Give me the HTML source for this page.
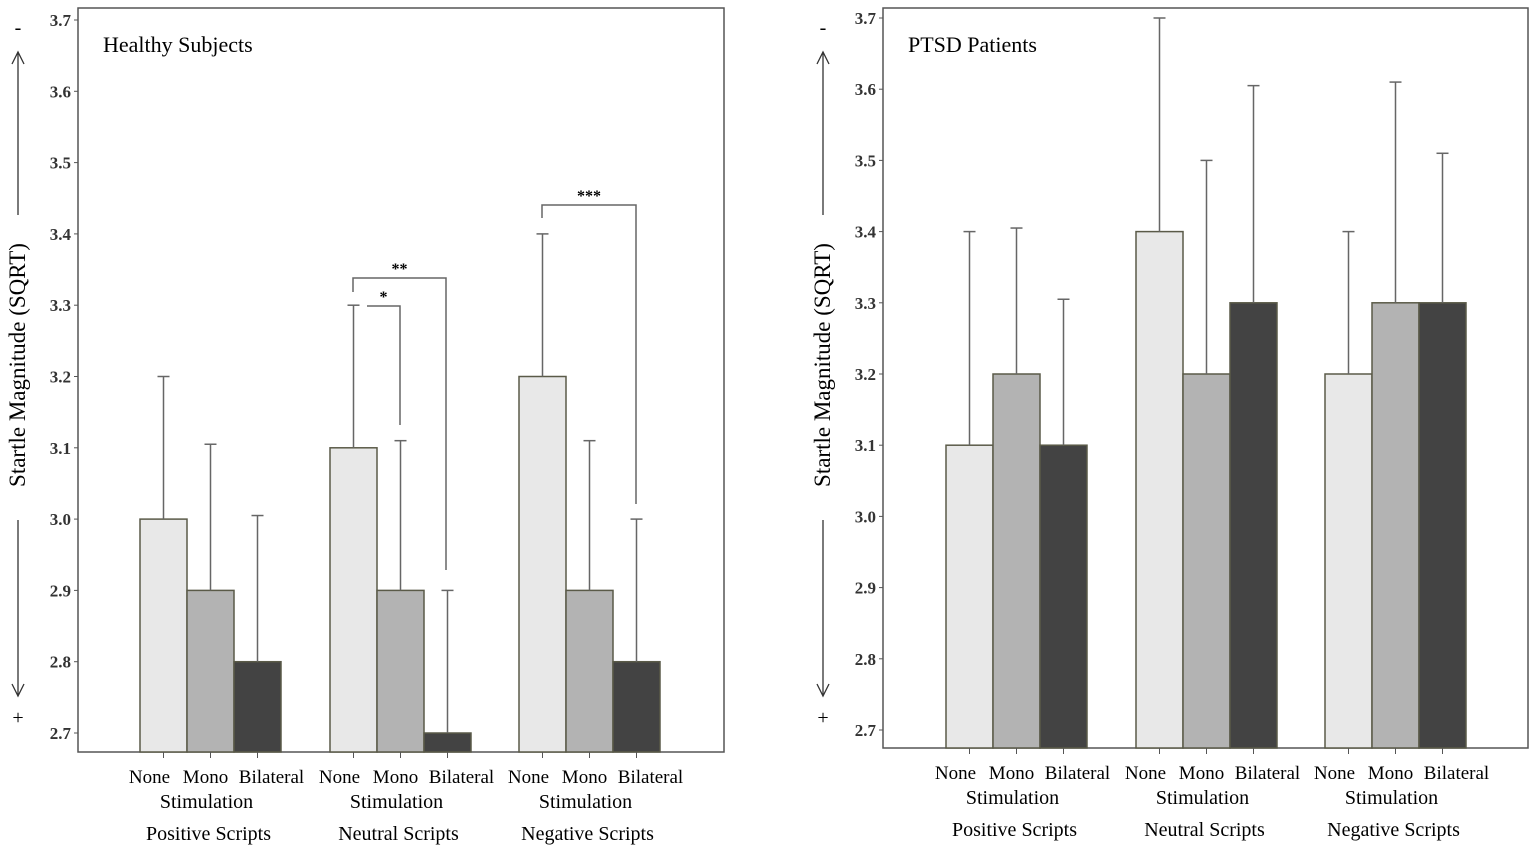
<!DOCTYPE html>
<html><head><meta charset="utf-8"><style>
body{margin:0;background:#fff;}
svg{display:block;font-family:"Liberation Serif",serif;}
</style></head><body>
<svg id="chart" width="1535" height="851"></svg>
<script>
const groups=["Positive Scripts","Neutral Scripts","Negative Scripts"];
const conditions=["None","Mono","Bilateral"];
const healthyMeans=[[3.0,2.9,2.8],[3.1,2.9,2.7],[3.2,2.9,2.8]];
const healthyErr=[[3.2,3.105,3.005],[3.3,3.11,2.9],[3.4,3.11,3.0]];
const ptsdMeans=[[3.1,3.2,3.1],[3.4,3.2,3.3],[3.2,3.3,3.3]];
const ptsdErr=[[3.4,3.405,3.305],[3.7,3.5,3.605],[3.4,3.61,3.51]];
const yTicks=[2.7,2.8,2.9,3.0,3.1,3.2,3.3,3.4,3.5,3.6,3.7];
const fills=["#e8e8e8","#b3b3b3","#434343"];
const labelOffsets=[-14,-5,14];
const NS="http://www.w3.org/2000/svg";
const svg=document.getElementById('chart');
function mk(tag,attrs,parent,text){const e=document.createElementNS(NS,tag);for(const k in attrs)e.setAttribute(k,attrs[k]);if(text!==undefined)e.textContent=text;(parent||svg).appendChild(e);return e;}

function panel(p){
  const g=mk('g',{});
  
  
  const y=v=>p.y0+(3.7-v)/0.1*p.step;
  const box=mk('rect',{x:p.bx,y:p.by,width:p.bw,height:p.bh,fill:'none',stroke:'#555','stroke-width':1.5},g);
  
  
  const title=mk('text',{x:p.bx+25,y:p.by+44,'font-size':22},g,p.title);
  
  
  yTicks.forEach(t=>{
    mk('line',{x1:p.bx-4,x2:p.bx,y1:y(t),y2:y(t),stroke:'#555'},g);
    const tx=mk('text',{x:p.bx-7,y:y(t)+6,'font-size':17,'font-weight':'bold','text-anchor':'end',fill:'#333'},g,t.toFixed(1));
    
    
  });
  const lx=p.bx-60;
  const yl=mk('text',{x:0,y:0,'font-size':23,'text-anchor':'middle',transform:`translate(${lx+7},${p.by+357}) rotate(-90)`},g,'Startle Magnitude (SQRT)');
  
  
  mk('line',{x1:lx,x2:lx,y1:p.by+207,y2:p.by+45,stroke:'#333','stroke-width':1.3},g);
  mk('path',{d:`M${lx-6},${p.by+56} L${lx},${p.by+44} L${lx+6},${p.by+56}`,fill:'none',stroke:'#333','stroke-width':1.3},g);
  mk('line',{x1:lx,x2:lx,y1:p.by+512,y2:p.by+687,stroke:'#333','stroke-width':1.3},g);
  mk('path',{d:`M${lx-6},${p.by+676} L${lx},${p.by+688} L${lx+6},${p.by+676}`,fill:'none',stroke:'#333','stroke-width':1.3},g);
  mk('text',{x:lx,y:p.by+26,'font-size':20,'text-anchor':'middle'},g,'-');
  mk('text',{x:lx,y:p.by+716,'font-size':20,'text-anchor':'middle'},g,'+');
  const bottom=p.by+p.bh;
  groups.forEach((gn,gi)=>{
    const gx=p.gx[gi];
    conditions.forEach((c,ci)=>{
      const x=gx+ci*p.bwid;
      const r=mk('rect',{x:x,y:y(p.means[gi][ci]),width:p.bwid,height:bottom-y(p.means[gi][ci]),fill:fills[ci],stroke:'#5a5a48','stroke-width':1.5},g);
      
      
      const cx=x+p.bwid/2;
      mk('line',{x1:cx,x2:cx,y1:y(p.means[gi][ci]),y2:y(p.err[gi][ci]),stroke:'#666','stroke-width':1.5},g);
      mk('line',{x1:cx-6,x2:cx+6,y1:y(p.err[gi][ci]),y2:y(p.err[gi][ci]),stroke:'#666','stroke-width':1.5},g);
      mk('line',{x1:cx,x2:cx,y1:bottom,y2:bottom+6,stroke:'#555'},g);
      const cl=mk('text',{x:cx+labelOffsets[ci],y:bottom+31,'font-size':19,'text-anchor':'middle'},g,c);
      
      
    });
    const mid=gx+1.5*p.bwid;
    mk('text',{x:mid-4,y:bottom+56,'font-size':20,'text-anchor':'middle'},g,'Stimulation');
    const gl=mk('text',{x:mid-2,y:bottom+88,'font-size':20,'text-anchor':'middle'},g,gn);
    
    
  });
  return y;
}
panel({name:'healthy-panel',title:'Healthy Subjects',bx:78,by:8,bw:646,bh:744,y0:20,step:71.3,gx:[140,330,519],bwid:47,means:healthyMeans,err:healthyErr});
panel({name:'ptsd-panel',title:'PTSD Patients',bx:883,by:8,bw:645,bh:740,y0:18,step:71.2,gx:[946,1136,1325],bwid:47,means:ptsdMeans,err:ptsdErr});
function bracket(x1,x2,yy,d1,d2,label){
  const g=mk('g',{});
  
  
  mk('path',{d:`M${x1},${d1} L${x1},${yy} L${x2},${yy} L${x2},${d2}`,fill:'none',stroke:'#666','stroke-width':1.5},g);
  mk('text',{x:(x1+x2)/2,y:yy-4,'font-size':16,'font-weight':'bold','text-anchor':'middle'},g,label);
}
bracket(353,446,278,292,570,'**');
bracket(367,400,306,306,425,'*');
bracket(542,636,205,218,504,'***');
</script>
</body></html>
